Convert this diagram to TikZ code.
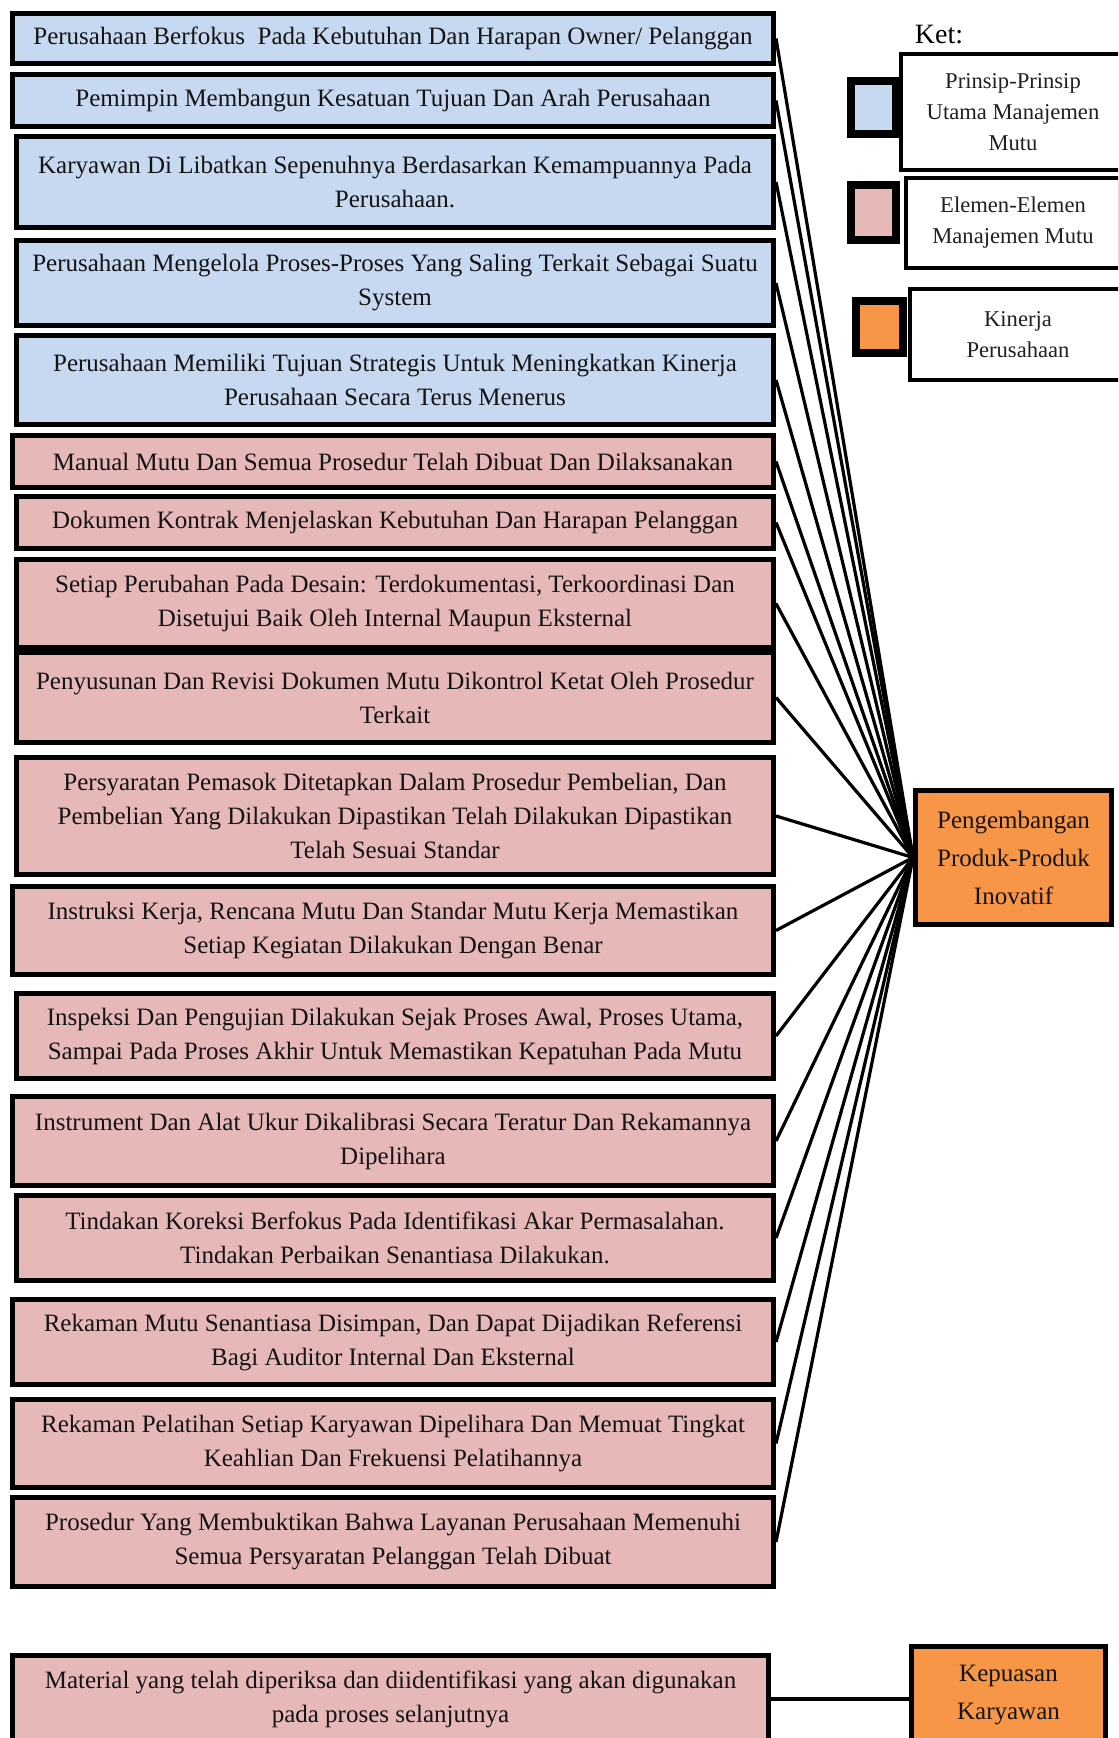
\documentclass[tikz,border=0pt]{standalone}
\usepackage{fontspec}
\setmainfont{Liberation Serif}
\definecolor{bblue}{HTML}{C6D9F0}
\definecolor{bpink}{HTML}{E6B8B7}
\definecolor{borange}{HTML}{F79646}
\definecolor{txt}{HTML}{141414}
\definecolor{ltxt}{HTML}{202020}
\begin{document}
\begin{tikzpicture}[x=0.5pt,y=-0.5pt,
  box/.style={draw=black, line width=2.4pt, inner sep=0pt, align=center, text=txt,
              font=\fontsize{12.5pt}{17pt}\selectfont},
  bl/.style={box, fill=bblue},
  pk/.style={box, fill=bpink},
  og/.style={box, fill=borange, font=\fontsize{12.5pt}{19pt}\selectfont},
  wide/.style={minimum width=380.6pt},
  narrow/.style={minimum width=378.6pt},
  keybox/.style={draw=black, line width=2pt, fill=white, inner sep=0pt, align=center,
                 text=ltxt, font=\fontsize{11.3pt}{15.5pt}\selectfont},
  keysq/.style={draw=black, line width=4pt, inner sep=0pt},
  conn/.style={line width=1.6pt}]
\useasboundingbox (0,0) rectangle (1118,1738);
\clip (0,0) rectangle (1118,1738);

% principle boxes (blue)
\node[bl, wide, minimum height=25.1pt] (b1) at (393,38.5)
  {Perusahaan Berfokus~ Pada Kebutuhan Dan Harapan Owner/ Pelanggan};
\node[bl, wide, minimum height=26.1pt] (b2) at (393,100.5)
  {Pemimpin Membangun Kesatuan Tujuan Dan Arah Perusahaan};
\node[bl, narrow, minimum height=45.6pt] (b3) at (395,182)
  {Karyawan Di Libatkan Sepenuhnya Berdasarkan Kemampuannya Pada\\ Perusahaan.};
\node[bl, narrow, minimum height=42.6pt] (b4) at (395,283)
  {Perusahaan Mengelola Proses-Proses Yang Saling Terkait Sebagai Suatu\\ System};
\node[bl, narrow, minimum height=44.6pt] (b5) at (395,380)
  {Perusahaan Memiliki Tujuan Strategis Untuk Meningkatkan Kinerja\\ Perusahaan Secara Terus Menerus};

% element boxes (pink)
\node[pk, wide, minimum height=26.1pt] (b6) at (393,461.5)
  {Manual Mutu Dan Semua Prosedur Telah Dibuat Dan Dilaksanakan};
\node[pk, narrow, minimum height=26.1pt] (b7) at (395,522.5)
  {Dokumen Kontrak Menjelaskan Kebutuhan Dan Harapan Pelanggan};
\node[pk, narrow, minimum height=44.1pt] (b8) at (395,603.5)
  {Setiap Perubahan Pada Desain: Terdokumentasi, Terkoordinasi Dan\\ Disetujui Baik Oleh Internal Maupun Eksternal};
\node[pk, narrow, minimum height=45.1pt] (b9) at (395,697.5)
  {Penyusunan Dan Revisi Dokumen Mutu Dikontrol Ketat Oleh Prosedur\\ Terkait};
\node[pk, narrow, minimum height=58.6pt] (b10) at (395,816)
  {Persyaratan Pemasok Ditetapkan Dalam Prosedur Pembelian, Dan\\ Pembelian Yang Dilakukan Dipastikan Telah Dilakukan Dipastikan\\ Telah Sesuai Standar};
\node[pk, wide, minimum height=44.1pt] (b11) at (393,930.5)
  {Instruksi Kerja, Rencana Mutu Dan Standar Mutu Kerja Memastikan\\ Setiap Kegiatan Dilakukan Dengan Benar};
\node[pk, narrow, minimum height=42.6pt] (b12) at (395,1036)
  {Inspeksi Dan Pengujian Dilakukan Sejak Proses Awal, Proses Utama,\\ Sampai Pada Proses Akhir Untuk Memastikan Kepatuhan Pada Mutu};
\node[pk, wide, minimum height=44.6pt] (b13) at (393,1141)
  {Instrument Dan Alat Ukur Dikalibrasi Secara Teratur Dan Rekamannya\\ Dipelihara};
\node[pk, narrow, minimum height=42.6pt] (b14) at (395,1238)
  {Tindakan Koreksi Berfokus Pada Identifikasi Akar Permasalahan.\\ Tindakan Perbaikan Senantiasa Dilakukan.};
\node[pk, wide, minimum height=42.6pt] (b15) at (393,1342)
  {Rekaman Mutu Senantiasa Disimpan, Dan Dapat Dijadikan Referensi\\ Bagi Auditor Internal Dan Eksternal};
\node[pk, wide, minimum height=44.1pt] (b16) at (393,1443.5)
  {Rekaman Pelatihan Setiap Karyawan Dipelihara Dan Memuat Tingkat\\ Keahlian Dan Frekuensi Pelatihannya};
\node[pk, wide, minimum height=44.6pt] (b17) at (393,1542)
  {Prosedur Yang Membuktikan Bahwa Layanan Perusahaan Memenuhi\\ Semua Persyaratan Pelanggan Telah Dibuat};
\node[pk, minimum width=378.1pt, minimum height=43.6pt] (b18) at (390.5,1699)
  {Material yang telah diperiksa dan diidentifikasi yang akan digunakan\\ pada proses selanjutnya};

% performance boxes (orange)
\node[og, minimum width=98.1pt, minimum height=67.1pt] (o1) at (1013.5,857.5)
  {Pengembangan\\ Produk-Produk\\ Inovatif};
\node[og, minimum width=97.1pt, minimum height=48.1pt] (o2) at (1008.5,1694.5)
  {Kepuasan\\ Karyawan};

% legend
\node[text=black, font=\fontsize{14pt}{16pt}\selectfont, inner sep=0pt] (ket) at (939,35) {Ket:};
\node[keybox, minimum width=112pt, minimum height=58pt] (k1) at (1013,112)
  {Prinsip-Prinsip\\ Utama Manajemen\\ Mutu};
\node[keybox, minimum width=107pt, minimum height=45pt] (k2) at (1013,223)
  {Elemen-Elemen\\ Manajemen Mutu};
\node[keybox, minimum width=108pt, minimum height=45.5pt] (k3) at (1018,334.5)
  {Kinerja\\ Perusahaan};
\node[keysq, fill=bblue, minimum width=22.5pt, minimum height=26.5pt] (s1) at (873.5,107.5) {};
\node[keysq, fill=bpink, minimum width=22.5pt, minimum height=27.5pt] (s2) at (873.5,212.5) {};
\node[keysq, fill=borange, minimum width=23.5pt, minimum height=26pt] (s3) at (879.5,327) {};

% connectors
\foreach \i in {1,...,17} \draw[conn] (b\i.east) -- (o1.west);
\draw[conn, line width=1.75pt] (b18.east) -- (b18.east -| o2.west);
\end{tikzpicture}
\end{document}
